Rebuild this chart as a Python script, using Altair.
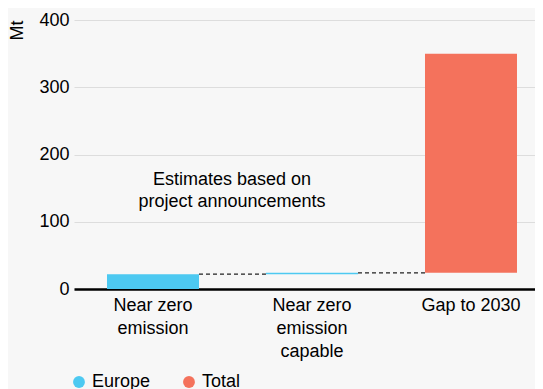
import altair as alt
import pandas as pd

# ---- data ----
categories = ["Near zero\nemission", "Near zero\nemission\ncapable", "Gap to 2030"]
series = ["Europe", "Europe", "Total"]
starts = [0, 22, 24]
ends = [22, 24, 350]

# connectors: from the top of one bar to the next bar
conn_from = ["Near zero\nemission", "Near zero\nemission\ncapable"]
conn_to = ["Near zero\nemission\ncapable", "Gap to 2030"]
conn_level = [22, 24]

legend_domain = ["Europe", "Total"]
legend_colors = ["#4DC9F1", "#F4725C"]

note_text = "Estimates based on\nproject announcements"
note_cat = "Near zero\nemission"
note_y = 162

FONT = "Liberation Sans"

bars_df = pd.DataFrame({"cat": categories, "series": series, "start": starts, "end": ends})
conn_df = pd.DataFrame({"c1": conn_from, "c2": conn_to, "lvl": conn_level})
note_df = pd.DataFrame({"cat": [note_cat], "y": [note_y], "text": [note_text]})

xscale = alt.Scale(domain=categories, paddingInner=0.4214, paddingOuter=0.1604, align=0.647)
yscale = alt.Scale(domain=[0, 400])

bars = alt.Chart(bars_df).mark_bar(cornerRadius=0).encode(
    x=alt.X("cat:N", scale=xscale, sort=categories,
            axis=alt.Axis(title=None, labelAngle=0, labelAlign="center", ticks=False, tickSize=0,
                          domainColor="#000000", domainWidth=2.5,
                          labelFont=FONT, labelFontSize=18, labelColor="#000000",
                          labelLineHeight=23, labelPadding=16,
                          labelExpr="split(datum.label, '\\n')")),
    y=alt.Y("start:Q", scale=yscale,
            axis=alt.Axis(title="Mt", values=[0, 100, 200, 300, 400], ticks=False, tickSize=0,
                          domain=False, grid=True, gridColor="#dddddd", gridWidth=1,
                          labelFont=FONT, labelFontSize=18, labelColor="#000000", labelPadding=5,
                          titleFont=FONT, titleFontSize=18, titleFontWeight="normal",
                          titleColor="#000000", titleAnchor="end", titlePadding=12)),
    y2="end:Q",
    color=alt.Color("series:N", scale=alt.Scale(domain=legend_domain, range=legend_colors),
                    legend=alt.Legend(title=None, orient="none", direction="horizontal",
                                      legendX=-4, legendY=353,
                                      symbolType="circle", symbolSize=140, symbolStrokeWidth=0,
                                      labelFont=FONT, labelFontSize=18, labelColor="#000000",
                                      labelOffset=4, columnPadding=29)),
)

conns = alt.Chart(conn_df).mark_rule(color="#222222", strokeWidth=1.2, strokeDash=[4, 3]).encode(
    x=alt.X("c1:N", scale=xscale, sort=categories, bandPosition=1),
    x2=alt.X2("c2:N", bandPosition=0),
    y=alt.Y("lvl:Q", scale=yscale),
)

note = alt.Chart(note_df).mark_text(font=FONT, fontSize=18, color="#000000", lineBreak="\n",
                                    lineHeight=22, align="center", baseline="middle", dx=79).encode(
    x=alt.X("cat:N", scale=xscale, sort=categories),
    y=alt.Y("y:Q", scale=yscale),
    text="text:N",
)

chart = alt.layer(conns, bars, note).properties(
    width=461, height=269,
    autosize=alt.AutoSizeParams(type="none"),
    padding={"left": 66, "top": 12, "right": 0, "bottom": 100},
    background="#f7f7f7",
).configure_view(stroke=None)

chart.save("out.html", embed_options={"renderer": "svg", "actions": False})
